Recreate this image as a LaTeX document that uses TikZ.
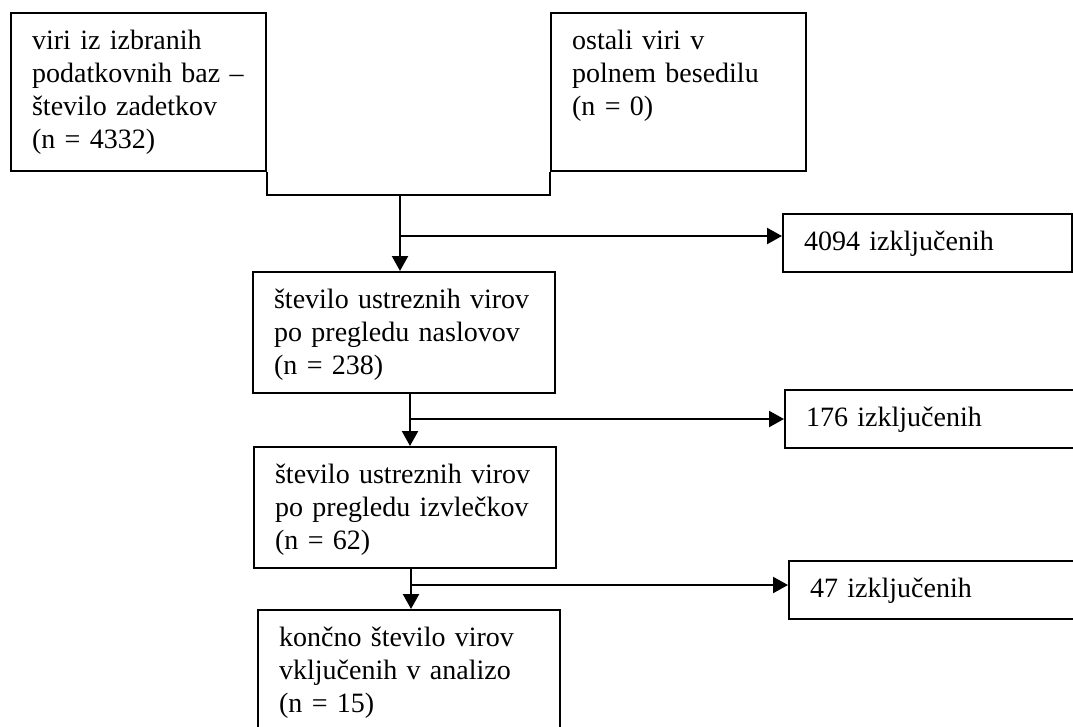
\documentclass[tikz,border=0pt]{standalone}
\usepackage{fontspec}
\setmainfont{Liberation Serif}
\usetikzlibrary{arrows.meta}

\tikzset{
  stage/.style={draw, line width=2.2pt, anchor=north west, align=left,
    inner xsep=21pt, inner ysep=16pt, text height=20pt,
    font=\fontsize{28}{33}\selectfont},
  flow/.style={line width=2.2pt, -{Triangle[length=15pt,width=16pt]}}
}

\begin{document}
\begin{tikzpicture}[x=1pt,y=-1pt]
    \path[use as bounding box, clip] (0,0) rectangle (1073,726);
    % viri
    \node[stage, text width=213pt, text depth=106pt] (baze) at (10,12)
      {viri iz izbranih\\podatkovnih baz --\\število zadetkov\\(n = 4332)};
    \node[stage, text width=213pt, text depth=106pt] (ostali) at (550,12)
      {ostali viri v\\polnem besedilu\\(n = 0)};
    % pregledi
    \node[stage, text width=260pt, text depth=69pt] (naslovi) at (252,271)
      {število ustreznih virov\\po pregledu naslovov\\(n = 238)};
    \node[stage, text width=260pt, text depth=69pt] (izvlecki) at (253,446)
      {število ustreznih virov\\po pregledu izvlečkov\\(n = 62)};
    \node[stage, text width=260pt, text depth=69pt] (koncno) at (257,609)
      {končno število virov\\vključenih v analizo\\(n = 15)};
    % izkljuceni
    \node[stage, text width=247pt, text depth=6pt] (izkl1) at (782,213) {4094 izključenih};
    \node[stage, text width=248pt, text depth=6pt] (izkl2) at (784,389) {176 izključenih};
    \node[stage, text width=248pt, text depth=6pt] (izkl3) at (788,560) {47 izključenih};

    \coordinate (spoj) at (400,195);
    \coordinate (odcep1) at (400,236);
    \coordinate (odcep2) at (410,419);
    \coordinate (odcep3) at (411,585);

    \draw[line width=2.2pt] (baze.south east) |- (spoj) -| (ostali.south west);
    \draw[flow] (spoj) -- (spoj |- naslovi.north);
    \draw[flow] (odcep1) -- (odcep1 -| izkl1.west);
    \draw[flow] (odcep2 |- naslovi.south) -- (odcep2 |- izvlecki.north);
    \draw[flow] (odcep2) -- (odcep2 -| izkl2.west);
    \draw[flow] (odcep3 |- izvlecki.south) -- (odcep3 |- koncno.north);
    \draw[flow] (odcep3) -- (odcep3 -| izkl3.west);
\end{tikzpicture}
\end{document}
